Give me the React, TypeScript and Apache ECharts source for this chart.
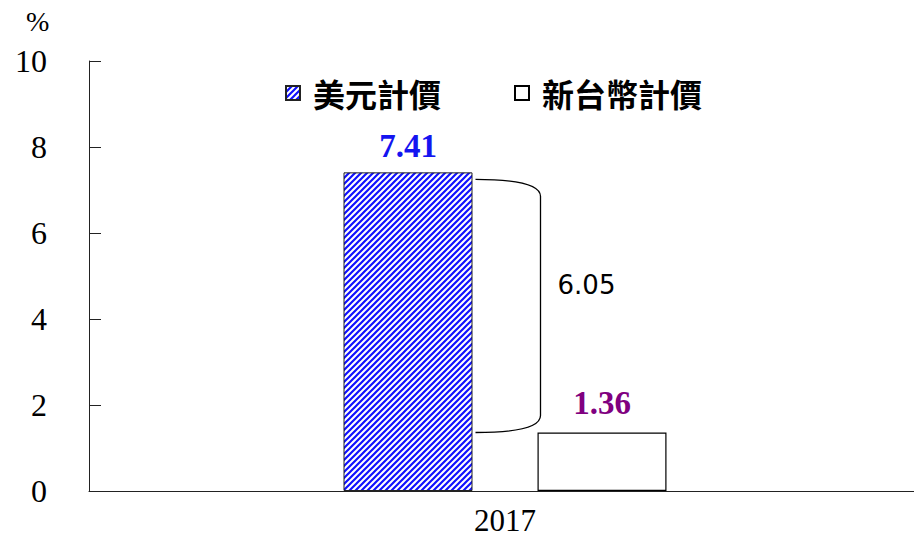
import React, { useEffect, useRef } from "react";
import * as echarts from "echarts";

const categories = ["2017"];
const usdSeriesName = "美元計價";
const twdSeriesName = "新台幣計價";
const usdValues = [7.41];
const twdValues = [1.36];
const diffValues = [6.05];
const yMin = 0;
const yMax = 10;
const yInterval = 2;
const unitLabel = "%";

function makeStripePattern(): HTMLCanvasElement {
  const c = document.createElement("canvas");
  c.width = 6;
  c.height = 6;
  const ctx = c.getContext("2d")!;
  ctx.fillStyle = "#ffffff";
  ctx.fillRect(0, 0, 6, 6);
  ctx.strokeStyle = "#1010ff";
  ctx.lineWidth = 2.2;
  ctx.beginPath();
  ctx.moveTo(-1, 1);
  ctx.lineTo(1, -1);
  ctx.moveTo(-1, 7);
  ctx.lineTo(7, -1);
  ctx.moveTo(5, 7);
  ctx.lineTo(7, 5);
  ctx.stroke();
  return c;
}

export default function App() {
  const ref = useRef<HTMLDivElement>(null);

  useEffect(() => {
    if (!ref.current) return;
    const chart = echarts.init(ref.current, undefined, { renderer: "svg" });
    const pattern = makeStripePattern();
    const serif = "'Liberation Serif', 'Times New Roman', serif";
    const cjk = "'Noto Sans CJK TC', sans-serif";
    const barWidth = 129;
    const gapPx = 65;

    const legendText = {
      fontFamily: cjk,
      fontWeight: "bold",
      fontSize: 32,
      color: "#000",
      padding: [0, 0, 0, 8],
    };

    chart.setOption({
      animation: false,
      backgroundColor: "#ffffff",
      grid: {
        left: 89,
        right: -7,
        top: 61,
        bottom: 48,
        containLabel: false,
        outerBoundsMode: "none",
      },
      legend: [
        {
          data: [usdSeriesName],
          left: 280,
          top: 72,
          icon: "rect",
          itemWidth: 14,
          itemHeight: 14,
          textStyle: legendText,
        },
        {
          data: [twdSeriesName],
          left: 509,
          top: 72,
          icon: "rect",
          itemWidth: 14,
          itemHeight: 14,
          textStyle: legendText,
        },
      ],
      graphic: [
        {
          type: "text",
          left: 26,
          top: 7,
          style: {
            text: unitLabel,
            fontSize: 28,
            fontFamily: "Liberation Serif",
            fill: "#000",
          },
        },
      ],
      xAxis: {
        type: "category",
        data: categories,
        axisTick: { show: false },
        axisLine: { lineStyle: { color: "#222", width: 1 } },
        axisLabel: {
          fontFamily: serif,
          fontSize: 31,
          lineHeight: 28,
          color: "#000",
          margin: 15,
        },
      },
      yAxis: {
        type: "value",
        min: yMin,
        max: yMax,
        interval: yInterval,
        splitLine: { show: false },
        axisLine: { show: true, lineStyle: { color: "#222", width: 1 } },
        axisTick: { show: true, inside: true, length: 12, lineStyle: { color: "#222" } },
        axisLabel: { fontFamily: serif, fontSize: 32, color: "#000", margin: 42 },
      },
      series: [
        {
          name: usdSeriesName,
          type: "bar",
          data: usdValues,
          barWidth,
          barGap: `${(gapPx / barWidth) * 100}%`,
          itemStyle: {
            color: { image: pattern, repeat: "repeat" },
            borderColor: "#222",
            borderWidth: 1,
          },
          label: {
            show: true,
            position: "top",
            distance: 10,
            color: "#1414f0",
            fontFamily: serif,
            fontWeight: "bold",
            fontSize: 33,
          },
        },
        {
          name: twdSeriesName,
          type: "bar",
          data: twdValues,
          barWidth,
          itemStyle: { color: "#ffffff", borderColor: "#000", borderWidth: 1.2 },
          label: {
            show: true,
            position: "top",
            distance: 13,
            color: "#800080",
            fontFamily: serif,
            fontWeight: "bold",
            fontSize: 33,
          },
        },
        {
          type: "custom",
          silent: true,
          data: [[0, usdValues[0], twdValues[0], diffValues[0]]],
          encode: { x: 0, y: [1, 2] },
          renderItem: (params: any, api: any) => {
            const top = api.coord([api.value(0), api.value(1)]);
            const bot = api.coord([api.value(0), api.value(2)]);
            const cx = top[0];
            const x0 = cx - gapPx / 2 + 3;
            const x1 = cx + gapPx / 2 + 3;
            const y0 = top[1] + 7;
            const y1 = bot[1];
            const r = 17;
            const d =
              `M${x0},${y0} Q${x1},${y0} ${x1},${y0 + r} ` +
              `L${x1},${y1 - r} Q${x1},${y1} ${x0},${y1}`;
            return {
              type: "group",
              children: [
                {
                  type: "path",
                  shape: { pathData: d },
                  style: { fill: "none", stroke: "#000", lineWidth: 1.3 },
                },
                {
                  type: "text",
                  style: {
                    text: String(api.value(3).toFixed(2)),
                    x: x1 + 46,
                    y: (y0 + y1) / 2 - 21,
                    align: "center",
                    verticalAlign: "middle",
                    fontSize: 26,
                    fontFamily: "DejaVu Sans",
                    fill: "#000",
                  },
                },
              ],
            };
          },
        },
      ],
    });

    return () => chart.dispose();
  }, []);

  return (
    <div
      ref={ref}
      style={{ position: "fixed", left: 0, top: 0, width: 914, height: 539 }}
    />
  );
}
